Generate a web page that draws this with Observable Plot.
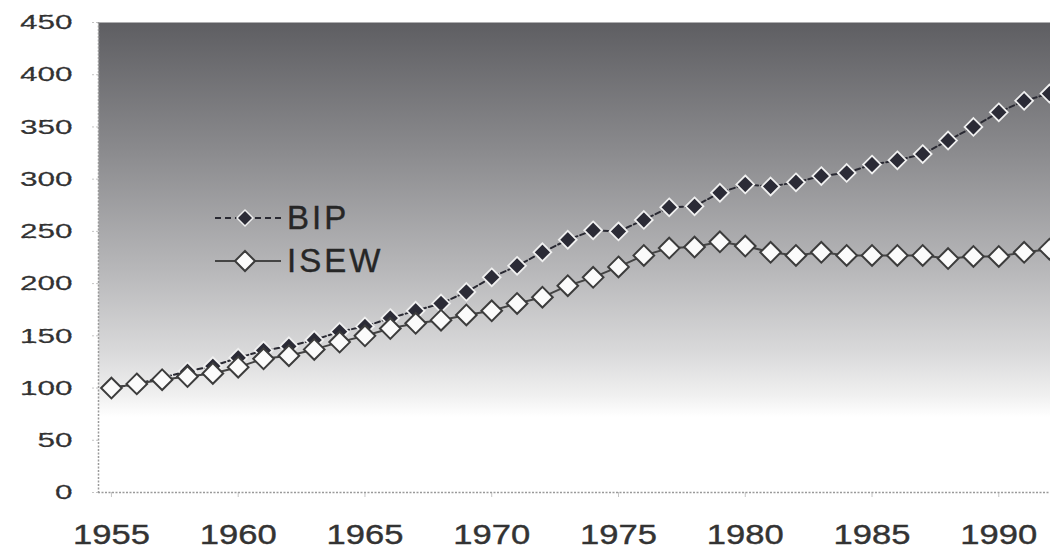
<!DOCTYPE html>
<html><head><meta charset="utf-8">
<script src="https://cdn.jsdelivr.net/npm/d3@7"></script>
<script src="https://cdn.jsdelivr.net/npm/@observablehq/plot@0.6"></script>
<style>
body{margin:0;background:#fff;}
#wrap{position:relative;width:1050px;height:553px;overflow:hidden;}
.leg{position:absolute;left:215px;height:40px;display:flex;align-items:center;font-family:"Liberation Sans",Arial,sans-serif;font-size:33px;letter-spacing:3px;color:#262626;-webkit-text-stroke:0.4px #262626;}
.leg svg{margin-right:6px;}
</style></head>
<body><div id="wrap"></div>
<script>
const years = [1955,1956,1957,1958,1959,1960,1961,1962,1963,1964,1965,1966,1967,1968,1969,1970,1971,1972,1973,1974,1975,1976,1977,1978,1979,1980,1981,1982,1983,1984,1985,1986,1987,1988,1989,1990,1991,1992];
const bip  = [100,104,110,116,121,129,136,140,146,154,159,167,174,181,192,206,217,230,242,251,250,261,273,274,287,295,293,297,303,306,314,318,324,337,350,364,375,382];
const isew = [100,104,108,111,114,120,128,131,137,144,150,157,162,165,170,174,181,187,198,206,216,227,234,235,240,236,230,227,230,227,227,227,227,224,226,226,230,233];
const seriesNames = ["BIP","ISEW"];
const yTicks = [0,50,100,150,200,250,300,350,400,450];
const xTicks = [1955,1960,1965,1970,1975,1980,1985,1990];

const rows = (vals, name) => years.map((y,i)=>({year:y, value:vals[i], series:name}));
const bipRows = rows(bip, seriesNames[0]);
const isewRows = rows(isew, seriesNames[1]);

const chart = Plot.plot({
  width: 1050, height: 553,
  marginTop: 22, marginBottom: 61, marginLeft: 98, marginRight: 0,
  x: {domain:[1954.49, 1992.04]},
  y: {domain:[0,450]},
  style:{background:"transparent"},
  marks: [
    Plot.frame({fill:"url(#bgGrad)", stroke:"none"}),
    Plot.axisY({ticks:yTicks, tickSize:6, tickPadding:20, stroke:"#c4c4c4", strokeDasharray:"2,2",
      fontSize:21, fontFamily:"Liberation Sans", fill:"#333", label:null, tickFormat:d=>String(d)}),
    Plot.axisX({ticks:xTicks, tickSize:5, tickPadding:27, stroke:"#c4c4c4",
      fontSize:27, fontFamily:"Liberation Sans", fill:"#333", label:null, tickFormat:d=>String(d)}),
    Plot.ruleX([1954.49], {stroke:"#9a9a9a", strokeDasharray:"2,1.5", strokeWidth:1.5}),
    Plot.ruleY([0], {stroke:"#9a9a9a", strokeDasharray:"2,1.5", strokeWidth:1.5}),
    Plot.line(bipRows, {x:"year", y:"value", stroke:"#2a2a33", strokeWidth:2, strokeDasharray:"5,3"}),
    Plot.dot(bipRows, {x:"year", y:"value", symbol:"diamond2", r:8, fill:"#2b2b36", stroke:"#f0f0f0", strokeWidth:1.8}),
    Plot.line(isewRows, {x:"year", y:"value", stroke:"#444", strokeWidth:2}),
    Plot.dot(isewRows, {x:"year", y:"value", symbol:"diamond2", r:9.3, fill:"#fbfbfb", stroke:"#3c3c3c", strokeWidth:2})
  ]
});

const ns = "http://www.w3.org/2000/svg";
const defs = document.createElementNS(ns,"defs");
defs.innerHTML = `<linearGradient id="bgGrad" x1="0" y1="0" x2="0" y2="1">
  <stop offset="0" stop-color="#5e5e62"/>
  <stop offset="0.27" stop-color="#8a8a8d"/>
  <stop offset="0.53" stop-color="#b8b8ba"/>
  <stop offset="0.70" stop-color="#d9d9da"/>
  <stop offset="0.79" stop-color="#efefef"/>
  <stop offset="0.84" stop-color="#ffffff"/>
  <stop offset="1" stop-color="#ffffff"/>
</linearGradient>`;
chart.insertBefore(defs, chart.firstChild);
// stretch tick labels horizontally like the scanned original
chart.querySelectorAll("[aria-label='y-axis tick label'] text").forEach(t=>{
  t.setAttribute("transform", (t.getAttribute("transform")||"") + " scale(1.5,1)");
  t.setAttribute("stroke","#333"); t.setAttribute("stroke-width","0.35");
});
chart.querySelectorAll("[aria-label='x-axis tick label'] text").forEach(t=>{
  t.setAttribute("transform", (t.getAttribute("transform")||"") + " scale(1.28,1)");
  t.setAttribute("stroke","#333"); t.setAttribute("stroke-width","0.4");
});

const wrap = document.getElementById("wrap");
wrap.appendChild(chart);

function legendRow(name, top, filled){
  const d = document.createElement("div");
  d.className = "leg";
  d.style.top = top + "px";
  const sw = filled
    ? `<svg width="66" height="24"><line x1="0" y1="12" x2="66" y2="12" stroke="#2a2a33" stroke-width="2" stroke-dasharray="6,4"/><path d="M30,4L38,12L30,20L22,12Z" fill="#2b2b36" stroke="#eee" stroke-width="1.5"/></svg>`
    : `<svg width="66" height="24"><line x1="0" y1="12" x2="66" y2="12" stroke="#444" stroke-width="2"/><path d="M30,2L40,12L30,22L20,12Z" fill="#fbfbfb" stroke="#3c3c3c" stroke-width="2"/></svg>`;
  d.innerHTML = sw + `<span>${name}</span>`;
  wrap.appendChild(d);
}
legendRow(seriesNames[0], 198, true);
legendRow(seriesNames[1], 241, false);
</script>
</body></html>
